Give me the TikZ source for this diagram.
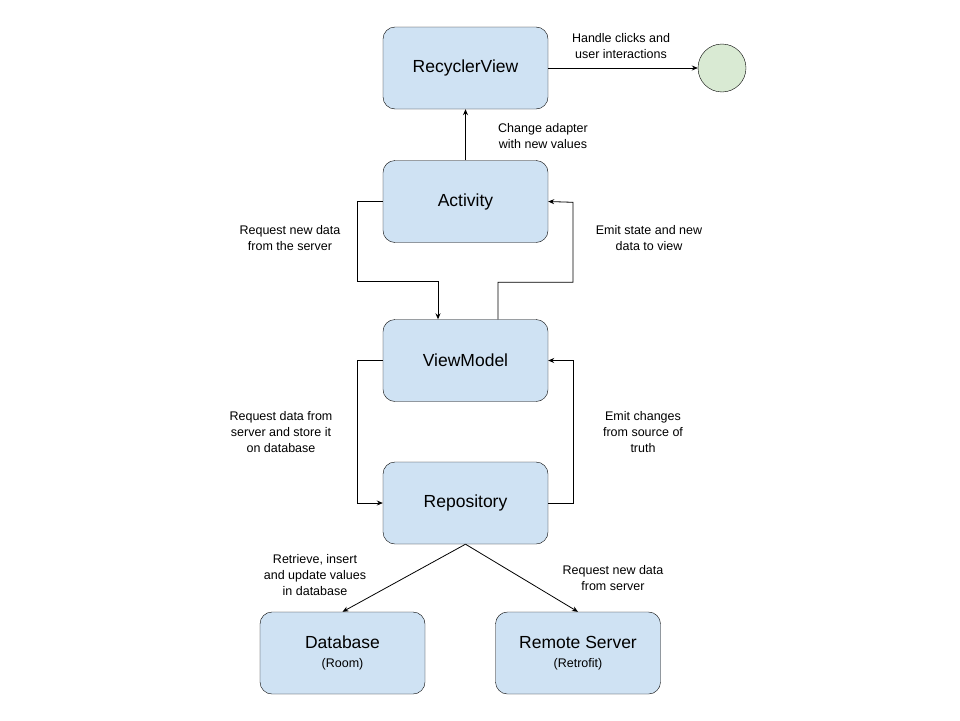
\documentclass[tikz,border=0pt]{standalone}
\usepackage{fontspec}
\setmainfont{Liberation Sans}
\usetikzlibrary{arrows.meta}
\definecolor{boxblue}{HTML}{CFE2F3}
\definecolor{endgreen}{HTML}{D9EAD3}
\tikzset{bx/.append style={draw,rounded corners=12pt,fill=boxblue,minimum width=165pt,minimum height=82pt,inner sep=0pt,font=\fontsize{17.5}{20}\selectfont,align=center}}
\tikzset{lb/.append style={align=center,font=\fontsize{12.5}{16}\selectfont,inner sep=0pt}}
\tikzset{ar/.append style={-{Stealth[length=6pt,width=5pt]},line width=0.8pt}}

\begin{document}
\begin{tikzpicture}[x=1pt,y=-1pt]
                \useasboundingbox (0,0) rectangle (960,720);
                % boxes
                \node[bx] (rv) at (465.5,68) {RecyclerView};
                \node[draw,circle,fill=endgreen,minimum size=48pt,inner sep=0pt] (end) at (722,68) {};
                \node[bx] (act) at (465.5,201.5) {Activity};
                \node[bx] (vm) at (465.5,360.5) {ViewModel};
                \node[bx] (repo) at (465.5,503) {Repository};
                \node[bx] (db) at (342.5,653) {Database\\[-1pt]{\fontsize{12.5}{14}\selectfont (Room)}};
                \node[bx] (rs) at (578,653) {Remote Server\\[-1pt]{\fontsize{12.5}{14}\selectfont (Retrofit)}};
                % labels
                \node[lb] (l1) at (621,46) {Handle clicks and\\user interactions};
                \node[lb] (l2) at (543,136) {Change adapter\\with new values};
                \node[lb] (l3) at (290,238) {Request new data\\from the server};
                \node[lb] (l4) at (649,238) {Emit state and new\\data to view};
                \node[lb] (l5) at (281,432) {Request data from\\server and store it\\on database};
                \node[lb] (l6) at (643,432) {Emit changes\\from source of\\truth};
                \node[lb] (l7) at (315,575) {Retrieve, insert\\and update values\\in database};
                \node[lb] (l8) at (613,578) {Request new data\\from server};
                % connectors
                \draw[ar] (rv.east) -- (end.west);
                \draw[ar] (act.north) -- (rv.south);
                \draw[ar] (act.west) -- ++(-25,0) -- ++(0,80) -| ([xshift=-27.5pt]vm.north);
                \draw[ar] ([xshift=32.5pt]vm.north) -- ++(0,-37) -| ++(75,-80) -- (act.east);
                \draw[ar] (vm.west) -- ++(-25,0) |- (repo.west);
                \draw[ar] (repo.east) -- ++(25,0) |- (vm.east);
                \draw[ar] (repo.south) -- (db.north);
                \draw[ar] (repo.south) -- (rs.north);
            \end{tikzpicture}
\end{document}
